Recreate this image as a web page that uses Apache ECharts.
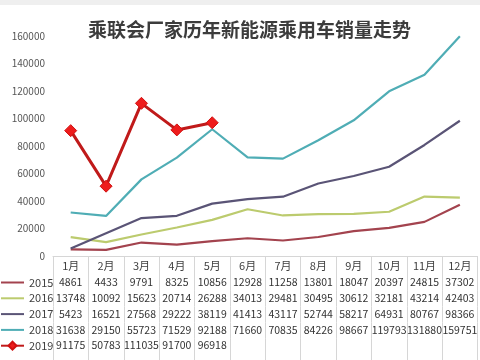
<!DOCTYPE html>
<html><head><meta charset="utf-8">
<script src="https://cdn.jsdelivr.net/npm/echarts@6/dist/echarts.min.js"></script>
<style>html,body{margin:0;padding:0;background:#fff}#c{width:480px;height:360px}</style>
</head><body><div id="c"></div>
<script>
const months = ['1月','2月','3月','4月','5月','6月','7月','8月','9月','10月','11月','12月'];
const years = ['2015','2016','2017','2018','2019'];
const s2015 = [4861,4433,9791,8325,10856,12928,11258,13801,18047,20397,24815,37302];
const s2016 = [13748,10092,15623,20714,26288,34013,29481,30495,30612,32181,43214,42403];
const s2017 = [5423,16521,27568,29222,38119,41413,43117,52744,58217,64931,80767,98366];
const s2018 = [31638,29150,55723,71529,92188,71660,70835,84226,98667,119793,131880,159751];
const s2019 = [91175,50783,111035,91700,96918];
const yTicks = {min:0, max:160000, interval:20000};
const title = '乘联会厂家历年新能源乘用车销量走势';

const allData = [s2015,s2016,s2017,s2018,s2019];
const colors = ['#a3434e','#bccb6e','#5a5476','#4fadb5','#c01a1a'];
const FONT = '"Noto Sans CJK SC", "Noto Sans", sans-serif';
const rowH = 15.8, headH = 19;
const gridLine = '#d6d6d6';

const xAxes = [{
  type:'category', data: months, gridIndex:0, position:'bottom',
  axisLine:{show:true, lineStyle:{color:gridLine}},
  axisTick:{show:true, length:headH, lineStyle:{color:gridLine}},
  axisLabel:{interval:0, margin:4, fontSize:11, color:'#404040', fontFamily:FONT}
}];
allData.forEach((arr, r) => {
  xAxes.push({
    type:'category', data: months, gridIndex:0, position:'bottom',
    offset: headH + r*rowH,
    axisLine:{show:false},
    axisTick:{show:true, length: r===4 ? 30 : rowH, lineStyle:{color:gridLine}},
    axisLabel:{interval:0, margin:2, fontSize:10.5, color:'#333', fontFamily:FONT,
      formatter:(v, i) => (arr[i] !== undefined ? String(arr[i]) : '')}
  });
});

const series = allData.map((arr, i) => {
  const is19 = i === 4;
  return {
    name: years[i], type:'line', xAxisIndex:0, data: arr,
    smooth:false,
    symbol: is19 ? 'diamond' : 'none',
    symbolSize: 12,
    showSymbol: is19,
    lineStyle:{color: colors[i], width: is19 ? 3 : 2.2},
    itemStyle:{color: is19 ? '#ee1c1c' : colors[i], borderColor: is19 ? '#d01010' : colors[i], borderWidth:1},
    emphasis:{disabled:true},
    z: is19 ? 10 : 2
  };
});

const legendData = years.map((y, i) => i === 4 ? {name:y} : {name:y, itemStyle:{opacity:0}});

const chart = echarts.init(document.getElementById('c'), null, {renderer:'canvas'});
chart.setOption({
  animation:false,
  backgroundColor:'#fff',
  title:{text:title, left:88, top:20, padding:0,
    textStyle:{fontSize:19, fontWeight:'bold', color:'#3c3c3c', fontFamily:FONT}},
  legend:{orient:'vertical', left:0, top:275.5, padding:0,
    itemWidth:23, itemHeight:10, itemGap:1.8,
    data: legendData,
    textStyle:{fontSize:11, lineHeight:14, color:'#404040', fontFamily:FONT}},
  grid:{left:53, right:-6, top:36, bottom:104, containLabel:false},
  xAxis: xAxes,
  yAxis:{type:'value', min:yTicks.min, max:yTicks.max, interval:yTicks.interval,
    axisLine:{show:false}, axisTick:{show:false}, splitLine:{show:false},
    axisLabel:{margin:8, fontSize:10, color:'#555', fontFamily:FONT, formatter:(v) => String(v)}},
  graphic:[{type:'rect', shape:{x:0,y:0,width:480,height:5}, style:{fill:'#efefef'}, silent:true}],
  series: series
});
</script></body></html>
